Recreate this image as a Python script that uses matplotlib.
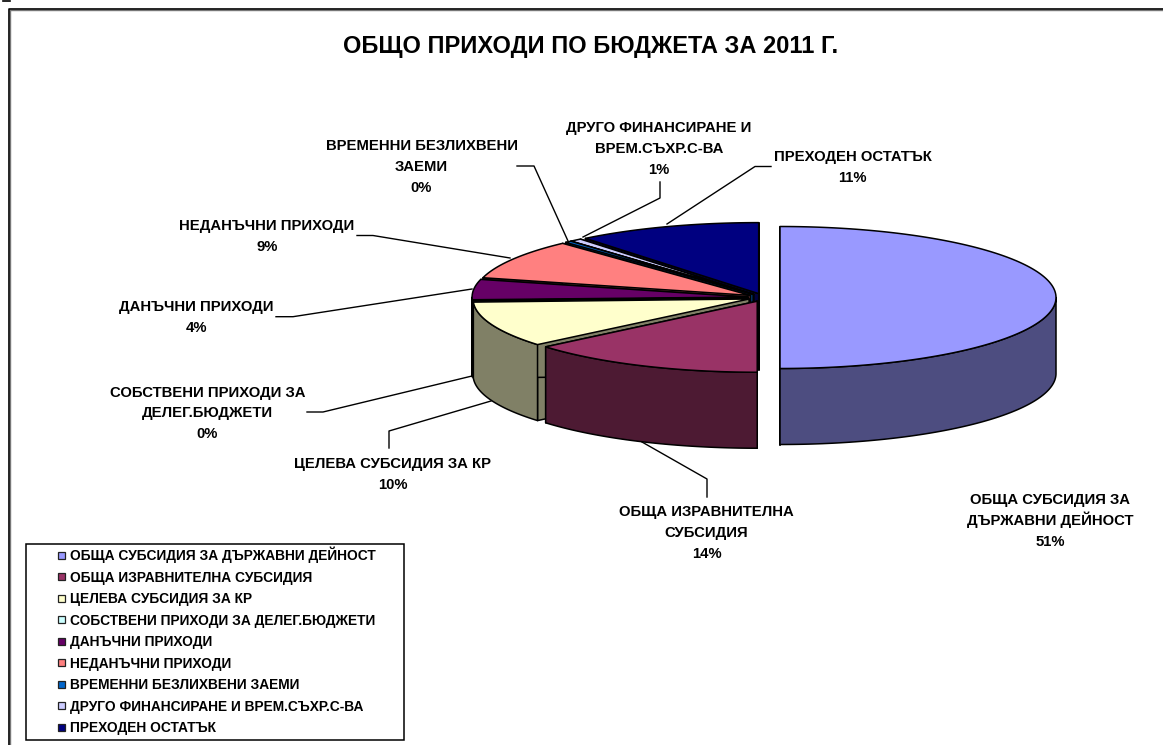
import numpy as np
import matplotlib
matplotlib.use("Agg")
import matplotlib.pyplot as plt
from matplotlib.patches import Polygon, Rectangle

plt.rcParams['font.family'] = ['Liberation Sans', 'DejaVu Sans']

# Data
labels = ["ОБЩА СУБСИДИЯ ЗА ДЪРЖАВНИ ДЕЙНОСТ", "ОБЩА ИЗРАВНИТЕЛНА СУБСИДИЯ",
          "ЦЕЛЕВА СУБСИДИЯ ЗА КР", "СОБСТВЕНИ ПРИХОДИ ЗА ДЕЛЕГ.БЮДЖЕТИ",
          "ДАНЪЧНИ ПРИХОДИ", "НЕДАНЪЧНИ ПРИХОДИ", "ВРЕМЕННИ БЕЗЛИХВЕНИ ЗАЕМИ",
          "ДРУГО ФИНАНСИРАНЕ И ВРЕМ.СЪХР.С-ВА", "ПРЕХОДЕН ОСТАТЪК"]
values = [50.0, 13.9, 10.4, 0.1, 4.6, 9.1, 0.4, 0.7, 10.8]
percents = ["51%", "14%", "10%", "0%", "4%", "9%", "0%", "1%", "11%"]
colors = ["#9999FF", "#993366", "#FFFFCC", "#CCFFFF", "#660066",
          "#FF8080", "#0066CC", "#CCCCFF", "#000080"]
title = "ОБЩО ПРИХОДИ ПО БЮДЖЕТА ЗА 2011 Г."

# wrapped label text and where it sits
label_text = ["ОБЩА СУБСИДИЯ ЗА\nДЪРЖАВНИ ДЕЙНОСТ", "ОБЩА ИЗРАВНИТЕЛНА\nСУБСИДИЯ",
              "ЦЕЛЕВА СУБСИДИЯ ЗА КР", "СОБСТВЕНИ ПРИХОДИ ЗА\nДЕЛЕГ.БЮДЖЕТИ",
              "ДАНЪЧНИ ПРИХОДИ", "НЕДАНЪЧНИ ПРИХОДИ", "ВРЕМЕННИ БЕЗЛИХВЕНИ\nЗАЕМИ",
              "ДРУГО ФИНАНСИРАНЕ И\nВРЕМ.СЪХР.С-ВА", "ПРЕХОДЕН ОСТАТЪК"]
label_x = [1050.5, 706.5, 392.5, 207.5, 196, 267, 421.5, 659, 852.5]
label_y = [519.5, 531.5, 473.5, 412, 316.5, 235.5, 166, 147.7, 166]

# leader lines (px)
leaders = [[(642, 442), (707, 479), (707, 497)],
           [(389, 448), (389, 431), (491, 401)],
           [(307, 412), (323, 412), (472, 376)],
           [(276, 316.7), (293, 316.7), (472, 289)],
           [(357, 235.5), (373, 235.5), (510, 258)],
           [(517, 166), (534, 166), (568, 241)],
           [(660, 182), (660, 198), (583, 237)],
           [(771, 166.5), (755, 166.5), (667, 224)]]

# pie geometry (px)
CX, CY = 764, 297.5
RX, RY = 276, 71
DEPTH = 76
EXPLODE = 16
LINE_STEP = 20.8


def arc(cx, cy, t1, t2, dy=0):
    t = np.radians(np.linspace(t1, t2, max(int(abs(t2 - t1)) + 2, 2)))
    return np.column_stack([cx + RX * np.sin(t), cy - RY * np.cos(t) + dy])


def darker(c):
    rgb = np.array(matplotlib.colors.to_rgb(c))
    return tuple(rgb * 0.5)


fig = plt.figure(figsize=(11.63, 7.45), dpi=100)
ax = fig.add_axes([0, 0, 1, 1])
ax.set_xlim(0, 1163)
ax.set_ylim(745, 0)
ax.axis("off")

# chart frame, runs off the right and bottom
ax.plot([9.7, 9.7, 1170], [760, 9.7, 9.7], color="#777777", lw=1.0, zorder=1)
ax.plot([8.5, 8.5, 1170], [760, 8.5, 8.5], color="black", lw=1.2, zorder=1)
ax.plot([3, 10], [0.5, 0.5], color="black", lw=1.2, zorder=1)

edges = np.cumsum([0] + values) / sum(values) * 360
mids = (edges[:-1] + edges[1:]) / 2
order = np.argsort(-np.cos(np.radians(mids)))

for i in order:
    t1, t2, m = edges[i], edges[i + 1], np.radians(mids[i])
    cx = CX + EXPLODE * np.sin(m)
    cy = CY - EXPLODE * RY / RX * np.cos(m)
    side = darker(colors[i])
    kw = dict(edgecolor="black", lw=1.1, joinstyle="round", zorder=3)
    # cut faces
    for t in (t1, t2):
        p = arc(cx, cy, t, t)[0]
        ax.add_patch(Polygon([p, (cx, cy), (cx, cy + DEPTH), (p[0], p[1] + DEPTH)],
                             facecolor=side, **kw))
    # outer wall, front half only
    w1, w2 = max(t1, 90), min(t2, 270)
    if w2 > w1:
        top = arc(cx, cy, w1, w2)
        bottom = arc(cx, cy, w1, w2, DEPTH)[::-1]
        ax.add_patch(Polygon(np.vstack([top, bottom]), facecolor=side, **kw))
    # top face
    ax.add_patch(Polygon(np.vstack([[(cx, cy)], arc(cx, cy, t1, t2)]),
                         facecolor=colors[i], **kw))

for pts in leaders:
    xs, ys = zip(*pts)
    ax.plot(xs, ys, color="black", lw=1.0, zorder=4)

# data labels, one text per line to keep the spacing even
for txt, x, y, p in zip(label_text, label_x, label_y, percents):
    lines = txt.split("\n") + [p]
    y0 = y - (len(lines) - 1) / 2 * LINE_STEP
    for k, line in enumerate(lines):
        ax.text(x, y0 + k * LINE_STEP + 5.3, line, ha="center", va="baseline",
                fontsize=10.7, fontweight="bold", zorder=5)

ax.text(590.5, 53, title, ha="center", va="baseline", fontsize=17, fontweight="bold")

# legend
ax.add_patch(Rectangle((25.5, 544), 378.5, 196, facecolor="white",
                       edgecolor="black", lw=1.1, zorder=2))
for i, (name, c) in enumerate(zip(labels, colors)):
    y = 555 + i * 21.55
    ax.add_patch(Rectangle((57.5, y - 3.5), 7, 7, facecolor=c,
                           edgecolor="#222222", lw=0.9, zorder=3))
    ax.text(69.5, y + 5, name, ha="left", va="baseline", fontsize=9.95,
            fontweight="bold", zorder=3)

fig.savefig("out.png", dpi=100)
